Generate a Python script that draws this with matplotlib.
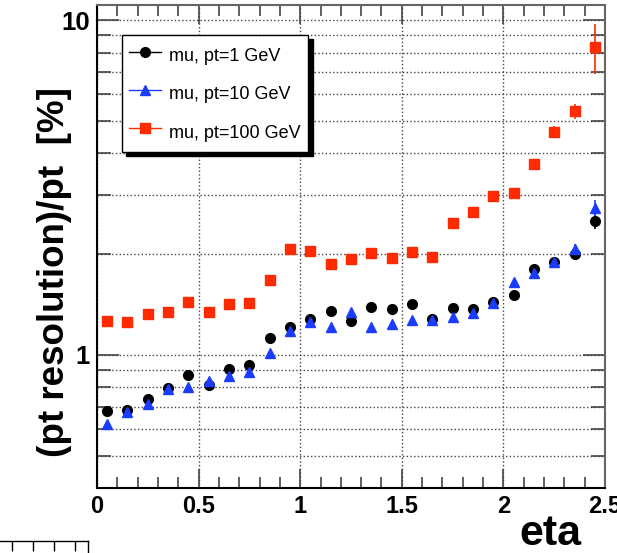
import numpy as np
import matplotlib.pyplot as plt
from matplotlib.lines import Line2D
from matplotlib.ticker import FixedLocator, NullFormatter

plt.rcParams['font.family'] = ['Liberation Sans', 'DejaVu Sans']

# eta bin centres
eta = [0.05, 0.15, 0.25, 0.35, 0.45, 0.55, 0.65, 0.75, 0.85, 0.95,
       1.05, 1.15, 1.25, 1.35, 1.45, 1.55, 1.65, 1.75, 1.85, 1.95,
       2.05, 2.15, 2.25, 2.35, 2.45]

# resolution in %
res_pt1 = [0.68, 0.684, 0.74, 0.797, 0.869, 0.813, 0.906, 0.933, 1.122, 1.21,
           1.276, 1.35, 1.258, 1.39, 1.37, 1.418, 1.278, 1.38, 1.373, 1.434,
           1.505, 1.80, 1.898, 2.00, 2.51]
err_pt1 = [0.01, 0.01, 0.01, 0.015, 0.015, 0.015, 0.015, 0.015, 0.02, 0.02,
           0.02, 0.02, 0.02, 0.02, 0.02, 0.02, 0.02, 0.02, 0.02, 0.02,
           0.03, 0.04, 0.04, 0.06, 0.14]

res_pt10 = [0.62, 0.676, 0.715, 0.791, 0.802, 0.836, 0.865, 0.891, 1.014, 1.18,
            1.25, 1.215, 1.339, 1.213, 1.235, 1.27, 1.27, 1.293, 1.33, 1.43,
            1.647, 1.752, 1.90, 2.07, 2.75]
err_pt10 = [0.01, 0.01, 0.01, 0.015, 0.015, 0.015, 0.015, 0.015, 0.02, 0.02,
            0.02, 0.02, 0.02, 0.02, 0.02, 0.02, 0.02, 0.02, 0.02, 0.03,
            0.03, 0.04, 0.05, 0.08, 0.15]

res_pt100 = [1.258, 1.25, 1.327, 1.342, 1.434, 1.345, 1.414, 1.43, 1.677, 2.07,
             2.048, 1.868, 1.934, 2.015, 1.947, 2.034, 1.96, 2.48, 2.68, 2.99,
             3.04, 3.72, 4.64, 5.35, 8.32]
err_pt100 = [0.02, 0.02, 0.02, 0.02, 0.02, 0.02, 0.02, 0.02, 0.03, 0.04,
             0.04, 0.04, 0.04, 0.04, 0.04, 0.04, 0.04, 0.05, 0.06, 0.08,
             0.1, 0.1, 0.18, 0.27, 1.4]

labels = ['mu, pt=1 GeV', 'mu, pt=10 GeV', 'mu, pt=100 GeV']
colors = ['black', '#1a3cff', '#ff2a00']
markers = ['o', '^', 's']

fig = plt.figure(figsize=(6.17, 5.53), dpi=100)
ax = fig.add_axes([97 / 617, 65 / 553, 508 / 617, 483 / 553])

series = [(res_pt1, err_pt1), (res_pt10, err_pt10), (res_pt100, err_pt100)]
for (vals, errs), c, m in zip(series, colors, markers):
    ax.errorbar(eta, vals, yerr=errs, fmt=m, color=c, ms=7, mec=c,
                elinewidth=1.2, capsize=0, zorder=3)

ax.set_yscale('log')
ax.set_xlim(0, 2.5)
ax.set_ylim(0.4, 11.1)

# ticks, ROOT style
ax.xaxis.set_major_locator(FixedLocator([0, 0.5, 1, 1.5, 2, 2.5]))
ax.xaxis.set_minor_locator(FixedLocator(np.arange(0.1, 2.5, 0.1)))
ax.set_xticklabels(['0', '0.5', '1', '1.5', '2', '2.5'])
ax.yaxis.set_major_locator(FixedLocator([1, 10]))
ax.yaxis.set_minor_locator(FixedLocator([0.4, 0.5, 0.6, 0.7, 0.8, 0.9,
                                         2, 3, 4, 5, 6, 7, 8, 9]))
ax.set_yticklabels(['1', '10'])
ax.yaxis.set_minor_formatter(NullFormatter())
ax.tick_params(which='both', direction='in', top=True, right=True,
               width=1.2, colors='#444444', labelcolor='black')
ax.tick_params(axis='x', which='major', length=14, pad=5, labelsize=17)
ax.tick_params(axis='x', which='minor', length=8)
ax.tick_params(axis='y', which='major', length=16, pad=5, labelsize=18.5)
ax.tick_params(axis='y', which='minor', length=10)
for lab in ax.get_xticklabels() + ax.get_yticklabels():
    lab.set_fontweight('bold')

ax.grid(True, which='major', axis='x', ls=':', color='#444444', lw=1)
ax.grid(True, which='both', axis='y', ls=':', color='#444444', lw=1)

for side in ['left', 'bottom']:
    ax.spines[side].set_color('black')
    ax.spines[side].set_linewidth(1.5)
for side in ['top', 'right']:
    ax.spines[side].set_color('#666666')
    ax.spines[side].set_linewidth(1.5)

ax.set_xlabel('eta', fontsize=31, fontweight='bold', ha='right')
ax.xaxis.set_label_coords(0.953, -0.054)
ax.set_ylabel('(pt resolution)/pt  [%]', fontsize=26.5, fontweight='bold',
              ha='right')
ax.yaxis.set_label_coords(-0.049, 0.83)

handles = [Line2D([], [], color=c, marker=m, ms=7, lw=1)
           for c, m in zip(colors, markers)]
leg = ax.legend(handles, labels, loc='upper left',
                bbox_to_anchor=(0.049, 0.938), fontsize=13,
                frameon=True, fancybox=False, edgecolor='black',
                labelspacing=0.7, handlelength=1.75, handleheight=1.8,
                handletextpad=0.45, borderpad=0.42, borderaxespad=0,
                shadow={'color': 'black', 'alpha': 1, 'ox': 3, 'oy': -3})
leg.get_frame().set_linewidth(1.0)
leg.get_frame().set_alpha(1)

# clipped bits of neighbouring material in the source picture
fig.text(-0.005, 0.993, 'eoo', color='#ff2a00', fontsize=22,
         fontweight='bold', va='bottom', ha='left')
ax2 = fig.add_axes([-62 / 617, -0.1, 150 / 617, 0.1 + 12 / 553])
ax2.set_xlim(0, 150)
ax2.set_ylim(0, 1)
ax2.set_xticks([74, 95, 116, 137])
ax2.set_yticks([])
ax2.tick_params(axis='x', direction='in', top=True, bottom=False,
                labelbottom=False, length=7, width=1)
for s in ax2.spines.values():
    s.set_linewidth(1)

fig.savefig('out.png', dpi=100)
